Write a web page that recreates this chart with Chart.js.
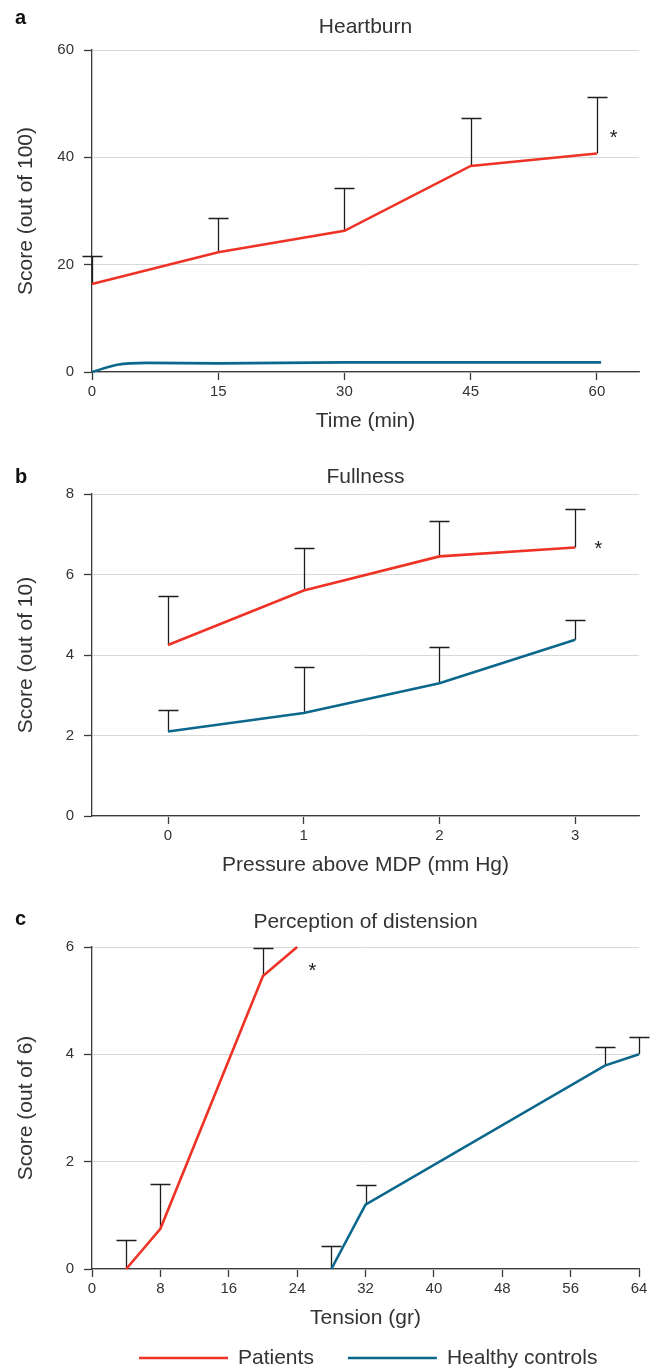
<!DOCTYPE html>
<html>
<head>
<meta charset="utf-8">
<title>Heartburn / Fullness / Perception of distension</title>
<script src="https://cdn.jsdelivr.net/npm/chart.js@4.4.1/dist/chart.umd.min.js"></script>
<style>
  html, body { margin: 0; padding: 0; background: #fff; }
  #wrap { position: relative; width: 660px; height: 1368px; overflow: hidden; }
  .panel { position: absolute; left: 0; width: 660px; }
  canvas { display: block; }
</style>
</head>
<body>
<div id="wrap">
  <div class="panel" style="top:0"><canvas id="chart-a" width="660" height="440"></canvas></div>
  <div class="panel" style="top:444px"><canvas id="chart-b" width="660" height="440"></canvas></div>
  <div class="panel" style="top:897px"><canvas id="chart-c" width="660" height="471"></canvas></div>
</div>
<script>
'use strict';

/* ─── Données ─────────────────────────────────────────────── */
var seriesNames = ['Patients', 'Healthy controls'];

/* a — Heartburn (score /100 vs temps) */
var heartTicksX   = [0, 15, 30, 45, 60];
var heartTicksY   = [0, 20, 40, 60];
var heartPatTime  = [0, 15, 30, 45, 60];
var heartPatScore = [16.4, 22.3, 26.3, 38.4, 40.7];
var heartPatSd    = [5.3, 6.4, 7.9, 9.0, 10.5];
var heartCtlTime  = [0, 3, 6.5, 15, 30, 45, 60.5];
var heartCtlScore = [0, 1.35, 1.7, 1.6, 1.8, 1.8, 1.8];

/* b — Fullness (score /10 vs pression) */
var fullTicksX    = [0, 1, 2, 3];
var fullTicksY    = [0, 2, 4, 6, 8];
var fullPressure  = [0, 1, 2, 3];
var fullPatScore  = [4.25, 5.6, 6.45, 6.67];
var fullPatSd     = [1.21, 1.07, 0.87, 0.96];
var fullCtlScore  = [2.1, 2.56, 3.3, 4.38];
var fullCtlSd     = [0.54, 1.14, 0.89, 0.48];

/* c — Perception of distension (score /6 vs tension) */
var distTicksX     = [0, 8, 16, 24, 32, 40, 48, 56, 64];
var distTicksY     = [0, 2, 4, 6];
var distPatTension = [4, 8, 20, 24];
var distPatScore   = [0, 0.75, 5.46, 6];
var distPatSd      = [0.54, 0.84, 0.52, null];
var distCtlTension = [28, 32, 60, 64];
var distCtlScore   = [0, 1.2, 3.79, 4];
var distCtlSd      = [0.43, 0.36, 0.34, 0.33];

/* ─── Style ───────────────────────────────────────────────── */
var RED  = '#ee3326';
var BLUE = '#0b678b';
var TEXT = '#333333';
var AXIS = '#3a3a3a';
var GRID = '#d9d9d9';
var FONT = '"Liberation Sans", Arial, Helvetica, sans-serif';

Chart.defaults.font.family = FONT;
Chart.defaults.color = TEXT;

function toPoints(xs, ys) {
  var out = [];
  for (var i = 0; i < xs.length; i++) { out.push({ x: xs[i], y: ys[i] }); }
  return out;
}

function fixedTicks(values) {
  return function(scale) {
    scale.ticks = values.map(function(v) { return { value: v }; });
  };
}

/* ─── Barres d'erreur, titres, astérisque, légende ───────── */
var panelDecor = {
  id: 'panelDecor',
  beforeDatasetsDraw: function(chart) {
    var ctx = chart.ctx;
    var sx = chart.scales.x, sy = chart.scales.y;
    ctx.save();
    ctx.strokeStyle = '#1e1e1e';
    ctx.lineWidth = 1.3;
    chart.data.datasets.forEach(function(ds) {
      if (!ds.errors) { return; }
      for (var i = 0; i < ds.data.length; i++) {
        var e = ds.errors[i];
        if (e === null || e === undefined) { continue; }
        var px = Math.round(sx.getPixelForValue(ds.data[i].x)) + 0.5;
        var y0 = sy.getPixelForValue(ds.data[i].y);
        var y1 = Math.round(sy.getPixelForValue(ds.data[i].y + e)) + 0.5;
        ctx.beginPath();
        ctx.moveTo(px, y0);
        ctx.lineTo(px, y1);
        ctx.moveTo(px - 10, y1);
        ctx.lineTo(px + 10, y1);
        ctx.stroke();
      }
    });
    ctx.restore();
  },
  afterDraw: function(chart, args, opts) {
    var ctx = chart.ctx;
    var area = chart.chartArea;
    ctx.save();

    /* lettre du panneau */
    ctx.font = 'bold 20px ' + FONT;
    ctx.fillStyle = '#111';
    ctx.textAlign = 'left';
    ctx.textBaseline = 'alphabetic';
    ctx.fillText(opts.letter, 15, opts.letterY);

    /* titre */
    ctx.fillStyle = TEXT;
    ctx.font = '21px ' + FONT;
    ctx.textAlign = 'center';
    ctx.textBaseline = 'middle';
    ctx.fillText(opts.title, (area.left + area.right) / 2, opts.titleY);

    /* astérisque de significativité */
    if (opts.star) {
      ctx.fillStyle = '#222';
      ctx.font = '20px ' + FONT;
      ctx.textBaseline = 'alphabetic';
      ctx.fillText('*', chart.scales.x.getPixelForValue(opts.star.x),
                   chart.scales.y.getPixelForValue(opts.star.y) + 11);
    }

    /* légende (panneau c seulement) */
    if (opts.legend) {
      var lx = opts.legend.x, ly = opts.legend.y;
      ctx.font = '21px ' + FONT;
      ctx.textAlign = 'left';
      ctx.textBaseline = 'middle';
      chart.data.datasets.forEach(function(ds) {
        ctx.strokeStyle = ds.borderColor;
        ctx.lineWidth = 2.6;
        ctx.beginPath();
        ctx.moveTo(lx, ly);
        ctx.lineTo(lx + 89, ly);
        ctx.stroke();
        ctx.fillStyle = TEXT;
        ctx.fillText(ds.label, lx + 99, ly);
        lx += 99 + ctx.measureText(ds.label).width + opts.legend.gap;
      });
    }
    ctx.restore();
  }
};

/* ─── Construction d'un panneau ───────────────────────────── */
function makePanel(canvasId, cfg) {
  var canvas = document.getElementById(canvasId);
  var H = canvas.height;
  return new Chart(canvas, {
    type: 'line',
    data: { datasets: cfg.datasets },
    options: {
      responsive: false,
      animation: false,
      events: [],
      layout: { padding: { top: 50, left: 0, right: 21, bottom: H - 440 } },
      elements: { point: { radius: 0, hoverRadius: 0 } },
      scales: {
        x: {
          type: 'linear',
          min: cfg.xMin,
          max: cfg.xMax,
          afterBuildTicks: fixedTicks(cfg.xTicks),
          afterFit: function(s) { s.height = 68; },
          grid: { drawOnChartArea: false, drawTicks: true, tickLength: 8, tickColor: AXIS, tickWidth: 1.3 },
          border: { color: AXIS, width: 1.3 },
          ticks: { color: TEXT, font: { size: 15 }, padding: 3, maxRotation: 0, autoSkip: false },
          title: { display: true, text: cfg.xTitle, color: TEXT, font: { size: 21 }, padding: { top: 0, bottom: 6 } }
        },
        y: {
          min: 0,
          max: cfg.yTicks[cfg.yTicks.length - 1],
          afterBuildTicks: fixedTicks(cfg.yTicks),
          afterFit: function(s) { s.width = 92; },
          grid: { color: GRID, lineWidth: 1, tickLength: 8, tickColor: AXIS, tickWidth: 1.3 },
          border: { color: AXIS, width: 1.3 },
          ticks: { color: TEXT, font: { size: 15 }, padding: 10 },
          title: { display: true, text: cfg.yTitle, color: TEXT, font: { size: 21 }, padding: { top: 14, bottom: 0 } }
        }
      },
      plugins: {
        legend: { display: false },
        tooltip: { enabled: false },
        panelDecor: cfg.decor
      }
    },
    plugins: [panelDecor]
  });
}

function lineSet(label, color, xs, ys, errs, smooth) {
  return {
    label: label,
    data: toPoints(xs, ys),
    errors: errs || null,
    borderColor: color,
    backgroundColor: color,
    borderWidth: 2.6,
    fill: false,
    clip: false,
    tension: 0,
    cubicInterpolationMode: smooth ? 'monotone' : 'default'
  };
}

/* ─── Init ────────────────────────────────────────────────── */
document.addEventListener('DOMContentLoaded', function() {
  makePanel('chart-a', {
    xMin: 0, xMax: 65, xTicks: heartTicksX, yTicks: heartTicksY,
    xTitle: 'Time (min)', yTitle: 'Score (out of 100)',
    datasets: [
      lineSet(seriesNames[0], RED, heartPatTime, heartPatScore, heartPatSd, false),
      lineSet(seriesNames[1], BLUE, heartCtlTime, heartCtlScore, null, true)
    ],
    decor: { letter: 'a', letterY: 24, title: 'Heartburn', titleY: 27.5, star: { x: 62, y: 44.5 } }
  });

  makePanel('chart-b', {
    xMin: -0.56, xMax: 3.47, xTicks: fullTicksX, yTicks: fullTicksY,
    xTitle: 'Pressure above MDP (mm Hg)', yTitle: 'Score (out of 10)',
    datasets: [
      lineSet(seriesNames[0], RED, fullPressure, fullPatScore, fullPatSd, false),
      lineSet(seriesNames[1], BLUE, fullPressure, fullCtlScore, fullCtlSd, false)
    ],
    decor: { letter: 'b', letterY: 39, title: 'Fullness', titleY: 33, star: { x: 3.17, y: 6.75 } }
  });

  makePanel('chart-c', {
    xMin: 0, xMax: 64, xTicks: distTicksX, yTicks: distTicksY,
    xTitle: 'Tension (gr)', yTitle: 'Score (out of 6)',
    datasets: [
      lineSet(seriesNames[0], RED, distPatTension, distPatScore, distPatSd, false),
      lineSet(seriesNames[1], BLUE, distCtlTension, distCtlScore, distCtlSd, false)
    ],
    decor: { letter: 'c', letterY: 28, title: 'Perception of distension', titleY: 25.5,
             star: { x: 25.8, y: 5.65 }, legend: { x: 139, y: 461, gap: 34 } }
  });
});
</script>
</body>
</html>
